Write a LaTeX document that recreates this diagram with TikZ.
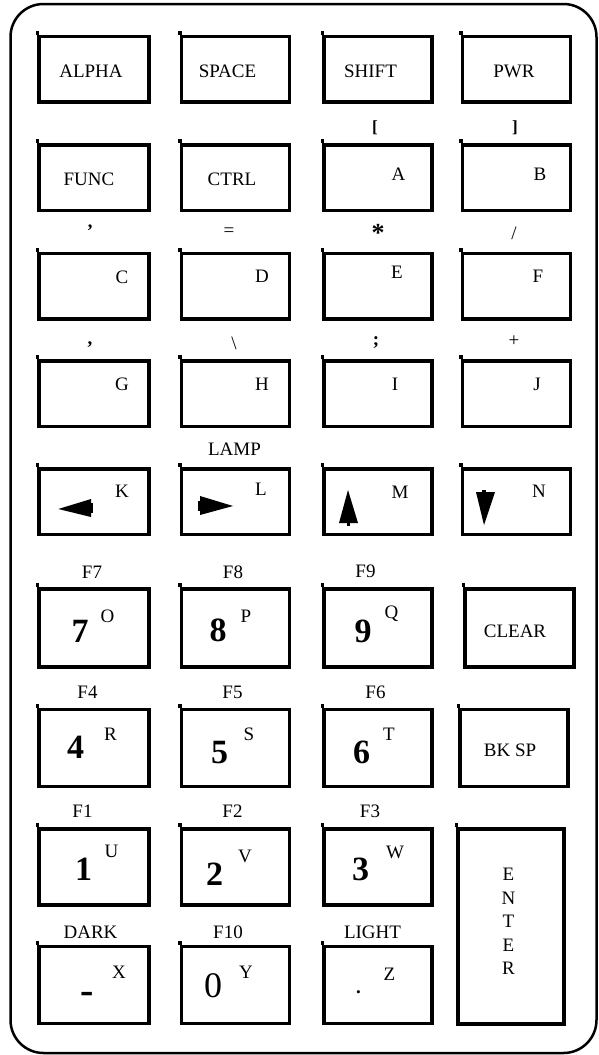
\documentclass[tikz,border=0pt]{standalone}
\usepackage{fontspec}
\setmainfont{Liberation Serif}
\newcommand\fsn{\fontsize{19}{23.4}\selectfont}
\newcommand\fdig{\bfseries\fontsize{34}{34}\selectfont}
\tikzset{
  kb/.style={draw, line width=3.5pt, inner sep=0pt, minimum width=108pt, minimum height=65.5pt},
  kbt/.style={kb, minimum height=77pt},
  lbl/.style={inner sep=0pt, anchor=base, font=\fsn},
  sym/.style={inner sep=0pt, anchor=center, font=\fsn},
  dig/.style={inner sep=0pt, anchor=base, font=\fdig},
  arr/.style={fill=black},
  tick/.style={line width=3.5pt},
}
\begin{document}
\begin{tikzpicture}[x=1pt,y=-1pt]
\useasboundingbox (0,0) rectangle (598,1055);
\node[draw, line width=2.5pt, rounded corners=33pt, minimum width=586pt, minimum height=1049pt, inner sep=0pt] (case) at (303.5,528.5) {};
% row 1
\node[kb, minimum width=110pt] (kALPHA) at (94,69.25) {};
\node[kb] (kSPACE) at (235.5,69.25) {};
\node[kb] (kSHIFT) at (378,69.25) {};
\node[kb] (kPWR) at (516.5,69.25) {};
% row 2
\node[kb, minimum width=110pt] (kFUNC) at (94,177.5) {};
\node[kb] (kCTRL) at (235.5,177.5) {};
\node[kb] (kA) at (378,177.5) {};
\node[kb] (kB) at (516.5,177.5) {};
% row 3
\node[kb, minimum width=110pt] (kC) at (94,286) {};
\node[kb] (kD) at (235.5,286) {};
\node[kb] (kE) at (378,286) {};
\node[kb] (kF) at (516.5,286) {};
% row 4
\node[kb, minimum width=110pt] (kG) at (94,393.75) {};
\node[kb] (kH) at (235.5,393.75) {};
\node[kb] (kI) at (378,393.75) {};
\node[kb] (kJ) at (516.5,393.75) {};
% row 5
\node[kb, minimum width=110pt] (kK) at (94,501.5) {};
\node[kb] (kL) at (235.5,501.5) {};
\node[kb] (kM) at (378,501.5) {};
\node[kb] (kN) at (516.5,501.5) {};
% row 6
\node[kbt, minimum width=110pt, minimum height=78pt] (k7) at (94,628) {};
\node[kbt, minimum height=78pt] (k8) at (235.5,628) {};
\node[kbt, minimum height=78pt] (k9) at (378,628) {};
\node[kbt, minimum width=109pt, minimum height=78pt] (kCLEAR) at (519.5,628) {};
% row 7
\node[kbt, minimum width=110pt] (k4) at (94,747.75) {};
\node[kbt] (k5) at (235.5,747.75) {};
\node[kbt] (k6) at (378,747.75) {};
\node[kbt] (kBKSP) at (514,747.75) {};
% row 8
\node[kbt, minimum width=110pt, minimum height=76pt] (k1) at (94,867) {};
\node[kbt, minimum height=76pt] (k2) at (235.5,867) {};
\node[kbt, minimum height=76pt] (k3) at (378,867) {};
% row 9
\node[kbt, minimum width=110pt] (kMINUS) at (94,984.75) {};
\node[kbt] (k0) at (235.5,984.75) {};
\node[kbt] (kDOT) at (378,984.75) {};
\node[kb, minimum width=106pt, minimum height=195pt] (kENTER) at (511,926.5) {};
% small ticks at the top-left corners
\foreach \n in {kALPHA,kSPACE,kSHIFT,kPWR,kFUNC,kCTRL,kA,kB,kC,kD,kE,kF,kG,kH,kI,kJ,kK,kL,kM,kN,k7,k8,k9,kCLEAR,k4,k5,k6,kBKSP,k1,k2,k3,kMINUS,k0,kDOT,kENTER}
  \draw[tick] (\n.north west) -- ++(0,-4);
% texts row 1-2
\node[lbl] (tALPHA) at (91,77.3) {ALPHA};
\node[lbl] (tSPACE) at (227.5,77.3) {SPACE};
\node[lbl] (tSHIFT) at (370.5,77.3) {SHIFT};
\node[lbl] (tPWR) at (514,77.3) {PWR};
\node[lbl] (tFUNC) at (89,185) {FUNC};
\node[lbl] (tCTRL) at (232,185) {CTRL};
\node[lbl] (tA) at (398.5,180) {A};
\node[lbl] (tB) at (540,180) {B};
\node[sym, font=\bfseries\fontsize{17}{17}\selectfont] (sA) at (375,128) {[};
\node[sym, font=\bfseries\fontsize{17}{17}\selectfont] (sB) at (515,128) {]};
% row 3
\node[sym, font=\bfseries\fsn] (sC) at (90,231) {'};
\node[sym] (sD) at (229,232) {=};
\node[sym, font=\bfseries\fontsize{26}{26}\selectfont] (sE) at (378,233) {*};
\node[sym] (sF) at (514,233) {/};
\node[lbl] (tC) at (122,283) {C};
\node[lbl] (tD) at (262,282) {D};
\node[lbl] (tE) at (397,278) {E};
\node[lbl] (tF) at (538,282) {F};
% row 4
\node[sym, font=\bfseries\fsn] (sG) at (90,345) {,};
\node[sym] (sH) at (234,343) {\textbackslash};
\node[sym, font=\bfseries\fsn] (sI) at (376,343) {;};
\node[sym] (sJ) at (514,341) {+};
\node[lbl] (tG) at (122,390) {G};
\node[lbl] (tH) at (262,390) {H};
\node[lbl] (tI) at (395,390) {I};
\node[lbl] (tJ) at (537,390) {J};
% row 5
\node[lbl] (tLAMP) at (234.5,455) {LAMP};
\node[lbl] (tK) at (122,497) {K};
\node[lbl] (tL) at (261,495) {L};
\node[lbl] (tM) at (400,498) {M};
\node[lbl] (tN) at (539,497) {N};
\fill[arr] (58.3,509) -- (91,499) -- (91,517) -- cycle;
\fill[arr] (89,503) rectangle (93,513);
\fill[arr] (233,506) -- (200,496) -- (200,515) -- cycle;
\fill[arr] (198,501) rectangle (202,511);
\fill[arr] (348,490) -- (339,523) -- (358,523) -- cycle;
\fill[arr] (346.5,521) rectangle (350,525.5);
\fill[arr] (484,525) -- (476,492) -- (495,492) -- cycle;
\fill[arr] (482,489.5) rectangle (486,494);
% row 6
\node[lbl] (tF7) at (92,578) {F7};
\node[lbl] (tF8) at (233,578) {F8};
\node[lbl] (tF9) at (365.5,577) {F9};
\node[dig] (d7) at (80,642) {7};
\node[lbl] (tO) at (107.5,622) {O};
\node[dig] (d8) at (218,641) {8};
\node[lbl] (tP) at (246,622) {P};
\node[dig] (d9) at (363,642) {9};
\node[lbl] (tQ) at (391.5,618) {Q};
\node[lbl] (tCLEAR) at (515,637) {CLEAR};
% row 7
\node[lbl] (tF4) at (87.5,698) {F4};
\node[lbl] (tF5) at (232.5,698) {F5};
\node[lbl] (tF6) at (375.5,698) {F6};
\node[dig] (d4) at (75.5,758) {4};
\node[lbl] (tR) at (110.5,740) {R};
\node[dig] (d5) at (219.5,763) {5};
\node[lbl] (tS) at (249,740) {S};
\node[dig] (d6) at (361.5,763) {6};
\node[lbl] (tT) at (389,740) {T};
\node[lbl] (tBKSP) at (510,756) {BK SP};
% row 8
\node[lbl] (tF1) at (82.5,817) {F1};
\node[lbl] (tF2) at (232.5,817) {F2};
\node[lbl] (tF3) at (370,817) {F3};
\node[dig] (d1) at (83.5,880) {1};
\node[lbl] (tU) at (111.5,857) {U};
\node[dig] (d2) at (214.5,885) {2};
\node[lbl] (tV) at (245,862) {V};
\node[dig] (d3) at (360.5,880) {3};
\node[lbl] (tW) at (395,858) {W};
% row 9
\node[lbl] (tDARK) at (90.5,938) {DARK};
\node[lbl] (tF10) at (228,938) {F10};
\node[lbl] (tLIGHT) at (372.5,938) {LIGHT};
\node[lbl] (tX) at (119,978) {X};
\node[sym, font=\bfseries\fontsize{40}{40}\selectfont] (dMINUS) at (87.5,997.5) {-};
\node[lbl] (tY) at (246,978) {Y};
\node[lbl, font=\fontsize{36}{36}\selectfont] (d0) at (213,997) {0};
\node[lbl] (tZ) at (389.5,980) {Z};
\node[sym, font=\bfseries\fsn] (dDOT) at (358.5,992.5) {.};
\node[sym, align=center, font=\fontsize{19}{23.4}\selectfont] (tENTER) at (508.5,921.5) {E\\N\\T\\E\\R};
\end{tikzpicture}
\end{document}
